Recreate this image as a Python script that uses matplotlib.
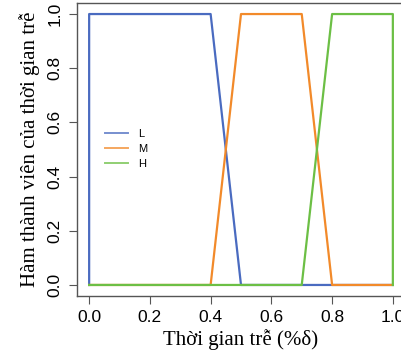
import matplotlib
matplotlib.use("Agg")
import matplotlib.pyplot as plt

L_x = [0.0, 0.0, 0.4, 0.5, 1.0]
L_y = [0.0, 1.0, 1.0, 0.0, 0.0]
M_x = [0.0, 0.4, 0.5, 0.7, 0.8, 1.0]
M_y = [0.0, 0.0, 1.0, 1.0, 0.0, 0.0]
H_x = [0.0, 0.7, 0.8, 1.0, 1.0]
H_y = [0.0, 0.0, 1.0, 1.0, 0.0]
ticks = [0.0, 0.2, 0.4, 0.6, 0.8, 1.0]
tick_labels = ["0.0", "0.2", "0.4", "0.6", "0.8", "1.0"]

fig = plt.figure(figsize=(4.02, 3.61), dpi=100)
ax = fig.add_axes([77/402, 1 - 295.8/361, 328/402, 292.6/361])
ax.plot(L_x, L_y, color="#4a6bc0", lw=1.6, label="L")
ax.plot(M_x, M_y, color="#f28a2a", lw=1.6, label="M")
ax.plot(H_x, H_y, color="#6cbf45", lw=1.6, label="H")
ax.set_xlim(-0.04, 1.04)
ax.set_ylim(-0.04, 1.04)
ax.set_xticks(ticks)
ax.set_xticklabels(tick_labels, fontsize=12.5, family="Liberation Sans")
ax.set_yticks(ticks)
ax.set_yticklabels(tick_labels, fontsize=12.5, family="Liberation Sans", rotation=90, va="center")
ax.tick_params(length=5.5, color="#555555", pad=5)
for s in ax.spines.values():
    s.set_color("#555555")
    s.set_linewidth(1.0)
ax.set_xlabel("Thời gian trễ (%δ)", fontsize=15, family=["Liberation Serif", "DejaVu Serif"], labelpad=3)
ax.set_ylabel("Hàm thành viên của thời gian trễ", fontsize=15, family=["Liberation Serif", "DejaVu Serif"], labelpad=5)
leg = ax.legend(loc="upper left", bbox_to_anchor=(0.055, 0.605), frameon=False,
                prop={"family": "Liberation Sans", "size": 8}, handlelength=2.1,
                labelspacing=0.45, handletextpad=0.9)
for h in leg.get_lines():
    h.set_linewidth(1.4)
    h.set_alpha(0.75)
fig.savefig("out.png", dpi=100)
